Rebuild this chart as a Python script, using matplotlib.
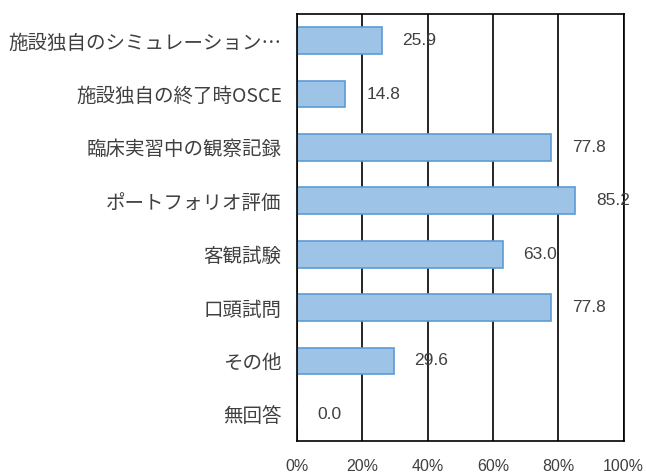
import matplotlib.pyplot as plt
from matplotlib.ticker import PercentFormatter

plt.rcParams['font.family'] = ['Noto Sans CJK JP', 'DejaVu Sans']
num_font = ['Liberation Sans', 'DejaVu Sans']

categories = ['施設独自のシミュレーション…', '施設独自の終了時OSCE', '臨床実習中の観察記録',
              'ポートフォリオ評価', '客観試験', '口頭試問', 'その他', '無回答']
values = [25.9, 14.8, 77.8, 85.2, 63.0, 77.8, 29.6, 0.0]

fig = plt.figure(figsize=(6.46, 4.74), dpi=100)
ax = fig.add_axes([0.4598, 0.0696, 0.5055, 0.9009])

pos = list(range(len(categories)))
ax.barh(pos, values, height=0.5, color='#9DC3E6', edgecolor='#5B9BD5', linewidth=1.2, zorder=2)
for p, v in zip(pos, values):
    ax.annotate(f'{v:.1f}', (v, p), xytext=(15, 0), textcoords='offset points',
                va='center', ha='left', fontsize=12.5, color='#404040', zorder=3,
                family=num_font)

ax.set_xlim(0, 100)
ax.set_ylim(len(categories) - 0.5, -0.5)
ax.set_xticks([0, 20, 40, 60, 80, 100])
ax.xaxis.set_major_formatter(PercentFormatter(decimals=0))
ax.set_yticks(pos)
ax.set_yticklabels(categories, fontsize=14)
ax.tick_params(axis='both', length=0, colors='#404040')
ax.tick_params(axis='x', pad=13, labelsize=11.5)
for t in ax.get_xticklabels():
    t.set_family(num_font)
ax.tick_params(axis='y', pad=11)
ax.grid(axis='x', color='black', linewidth=1.2, zorder=1)
for s in ax.spines.values():
    s.set_color('black')
    s.set_linewidth(1.2)

fig.savefig('out.png', dpi=100)
